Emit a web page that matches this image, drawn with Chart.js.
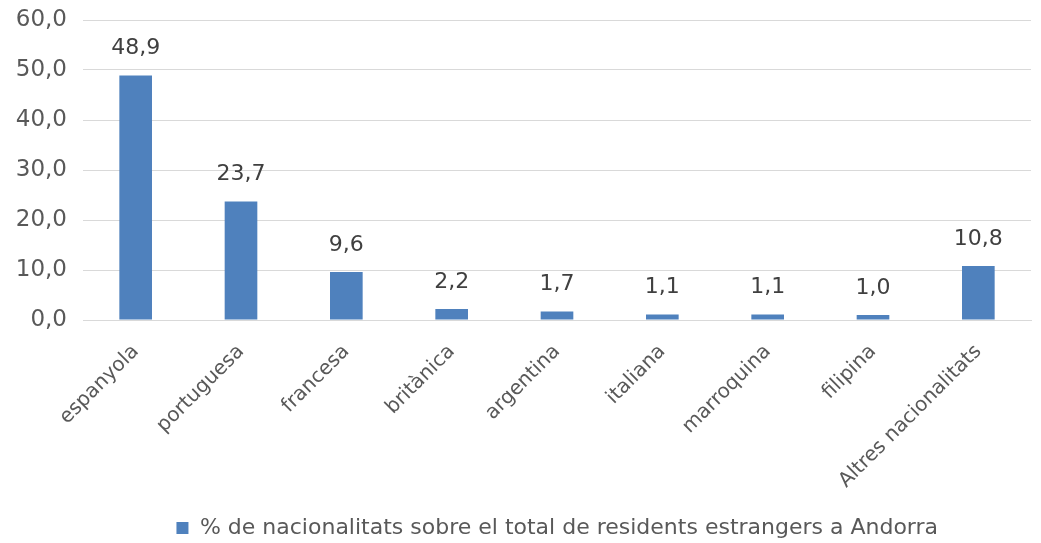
<!DOCTYPE html>
<html>
<head>
<meta charset="utf-8">
<script src="https://cdn.jsdelivr.net/npm/chart.js@4.4.1/dist/chart.umd.min.js"></script>
<style>
  html, body { margin: 0; padding: 0; background: #fff; }
  #wrap { width: 1041px; height: 543px; }
</style>
</head>
<body>
<div id="wrap"><canvas id="canvas" width="1041" height="543"></canvas></div>
<script>
// dades
var categories = ["espanyola", "portuguesa", "francesa", "britànica", "argentina",
  "italiana", "marroquina", "filipina", "Altres nacionalitats"];
var percentatges = [48.9, 23.7, 9.6, 2.2, 1.7, 1.1, 1.1, 1.0, 10.8];
var etiquetaSerie = "% de nacionalitats sobre el total de residents estrangers a Andorra";
var yTicks = [0, 10, 20, 30, 40, 50, 60];

var blau = "#4F81BD";
var gris = "#595959";
var font = "'DejaVu Sans', 'Liberation Sans', sans-serif";

function fmt(v) {
  return v.toFixed(1).replace(".", ",");
}

// etiquetes de valor damunt les barres
var valorsPlugin = {
  id: "valors",
  afterDatasetsDraw: function (chart) {
    var ctx = chart.ctx;
    var meta = chart.getDatasetMeta(0);
    ctx.save();
    ctx.fillStyle = "#404040";
    ctx.font = "22px " + font;
    ctx.textAlign = "center";
    ctx.textBaseline = "middle";
    meta.data.forEach(function (bar, i) {
      ctx.fillText(fmt(chart.data.datasets[0].data[i]), bar.x, bar.y - 27);
    });
    ctx.restore();
  }
};

var ctx = document.getElementById("canvas").getContext("2d");
new Chart(ctx, {
  type: "bar",
  data: {
    labels: categories,
    datasets: [{
      label: etiquetaSerie,
      data: percentatges,
      backgroundColor: blau,
      borderColor: blau,
      borderWidth: 0,
      barPercentage: 0.62,
      categoryPercentage: 0.5
    }]
  },
  plugins: [valorsPlugin],
  options: {
    responsive: false,
    animation: false,
    layout: { padding: { top: 20, right: 10, left: 0, bottom: -6 } },
    plugins: {
      legend: {
        position: "bottom",
        fullSize: false,
        labels: {
          color: gris,
          font: { family: font, size: 22 },
          boxWidth: 13,
          boxHeight: 12,
          usePointStyle: true,
          pointStyle: "rect",
          padding: 0
        }
      },
      tooltip: { enabled: false }
    },
    scales: {
      x: {
        grid: { display: false },
        border: { color: "#d9d9d9" },
        ticks: {
          color: gris,
          font: { family: font, size: 20 },
          minRotation: 45,
          maxRotation: 45,
          padding: 12
        },
        afterFit: function (s) { s.height = 197; s.paddingTop = 0; }
      },
      y: {
        min: 0,
        max: 60,
        afterBuildTicks: function (s) {
          s.ticks = yTicks.map(function (v) { return { value: v }; });
        },
        grid: { color: "#d9d9d9", drawTicks: false },
        border: { display: false },
        ticks: {
          color: gris,
          font: { family: font, size: 23, lineHeight: 1 },
          padding: 16,
          callback: function (v) { return fmt(v); }
        },
        afterFit: function (s) { s.width = 83; s.paddingTop = 0; s.paddingBottom = 0; }
      }
    }
  }
});
</script>
</body>
</html>
